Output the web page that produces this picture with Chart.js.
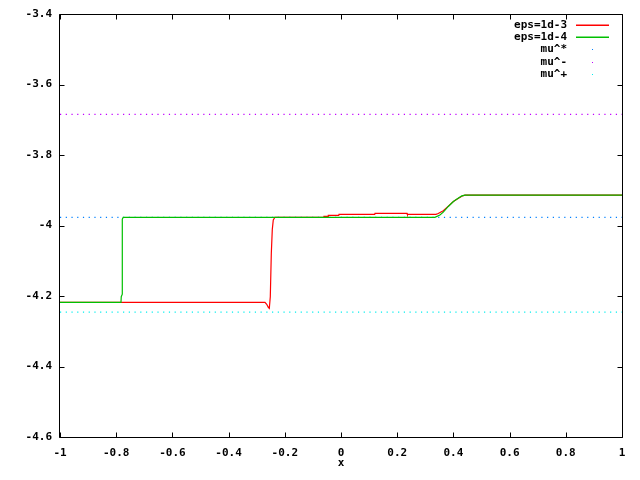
<!DOCTYPE html>
<html>
<head>
<meta charset="utf-8">
<script src="https://cdn.jsdelivr.net/npm/chart.js@4"></script>
<style>
  html, body { margin: 0; padding: 0; background: #fff; }
  #wrap { width: 640px; height: 480px; }
</style>
</head>
<body>
<div id="wrap"><canvas id="chart" width="640" height="480"></canvas></div>
<script>
const ctx = document.getElementById('chart');

// eps=1d-3 (red)
const redX = [-1, -0.2705, -0.2644, -0.2587, -0.2551, -0.2516, -0.248, -0.2445, -0.241, -0.2349,
    -0.062, -0.0605, -0.046, -0.0452, -0.008, -0.0071, 0.12, 0.121, 0.235, 0.236,
    0.338, 0.346, 0.364, 0.382, 0.4, 0.418, 0.43, 0.441, 1];
const redY = [-4.2179, -4.2179, -4.2236, -4.232, -4.235, -4.202, -4.079, -4.011, -3.9844, -3.9767,
    -3.9767, -3.9739, -3.9739, -3.9711, -3.9711, -3.9682, -3.9682, -3.9654, -3.9654, -3.9682,
    -3.9682, -3.966, -3.958, -3.945, -3.932, -3.923, -3.917, -3.914, -3.914];

// eps=1d-4 (green)
const greenX = [-1, -0.783, -0.782, -0.7783, -0.7783, -0.775, 0.334, 0.352, 0.364, 0.382, 0.4, 0.418, 0.43, 0.441, 1];
const greenY = [-4.2179, -4.2179, -4.202, -4.195, -3.982, -3.9767, -3.9767, -3.970, -3.962, -3.946, -3.932, -3.922, -3.916, -3.914, -3.914];

// horizontal levels
const muStar = -3.9767;
const muMinus = -3.6846;
const muPlus = -4.246;

const xTicks = [-1, -0.8, -0.6, -0.4, -0.2, 0, 0.2, 0.4, 0.6, 0.8, 1];
const yTicks = [-4.6, -4.4, -4.2, -4, -3.8, -3.6, -3.4];

const keyLabels = ['eps=1d-3', 'eps=1d-4', 'mu^*', 'mu^-', 'mu^+'];
const keyColors = ['#ff0000', '#00c000', '#0080ff', '#c000ff', '#00eeee'];

const FONT = { family: '"DejaVu Sans Mono", monospace', size: 11, weight: 'bold' };
const DOTS = [1.2, 4.53];

function pts(xs, ys) {
    return xs.map((x, i) => ({ x: x, y: ys[i] }));
}
function level(v) {
    return [{ x: -1, y: v }, { x: 1, y: v }];
}

const data = {
    datasets: [
        { label: keyLabels[0], data: pts(redX, redY), borderColor: keyColors[0], borderWidth: 1.2, order: 1 },
        { label: keyLabels[1], data: pts(greenX, greenY), borderColor: keyColors[1], borderWidth: 1.2, order: 0 },
        { label: keyLabels[2], data: level(muStar), borderColor: keyColors[2], borderWidth: 1.2, borderDash: DOTS, order: 2 },
        { label: keyLabels[3], data: level(muMinus), borderColor: keyColors[3], borderWidth: 1.2, borderDash: DOTS, order: 2 },
        { label: keyLabels[4], data: level(muPlus), borderColor: keyColors[4], borderWidth: 1.2, borderDash: DOTS, order: 2 }
    ]
};

// gnuplot-like frame, inward ticks on all sides, key in top right
const framePlugin = {
    id: 'frame',
    afterDraw(chart) {
        const c = chart.ctx;
        const a = chart.chartArea;
        const L = Math.round(a.left) - 0.5, R = Math.round(a.right) + 0.5;
        const T = Math.round(a.top) + 0.5, B = Math.round(a.bottom) + 0.5;
        c.save();
        c.setLineDash([]);
        c.strokeStyle = '#000';
        c.lineWidth = 1;
        c.beginPath();
        c.rect(L, T, R - L, B - T);
        chart.scales.x.ticks.forEach(t => {
            const px = Math.round(chart.scales.x.getPixelForValue(t.value)) + 0.5;
            c.moveTo(px, B); c.lineTo(px, B - 5);
            c.moveTo(px, T); c.lineTo(px, T + 5);
        });
        chart.scales.y.ticks.forEach(t => {
            const py = Math.round(chart.scales.y.getPixelForValue(t.value)) + 0.5;
            c.moveTo(L, py); c.lineTo(L + 5, py);
            c.moveTo(R, py); c.lineTo(R - 5, py);
        });
        c.stroke();

        // key
        c.font = 'bold 11px "DejaVu Sans Mono", monospace';
        c.textAlign = 'right';
        c.textBaseline = 'middle';
        keyLabels.forEach((lab, i) => {
            const y = Math.round(25 + i * 12.2);
            c.fillStyle = '#000';
            c.fillText(lab, 567, y + 0.5);
            if (i < 2) {
                c.strokeStyle = keyColors[i];
                c.lineWidth = 1.4;
                c.beginPath();
                c.moveTo(576, y + 0.3);
                c.lineTo(609, y + 0.3);
                c.stroke();
            } else {
                c.fillStyle = keyColors[i];
                c.fillRect(592, y, 1, 1);
            }
        });
        c.restore();
    }
};

new Chart(ctx, {
    type: 'scatter',
    data: data,
    options: {
        responsive: false,
        animation: false,
        showLine: true,
        elements: { point: { radius: 0 }, line: { tension: 0 } },
        layout: { padding: { top: 14, right: 18, left: 0, bottom: 0 } },
        plugins: { legend: { display: false }, tooltip: { enabled: false } },
        scales: {
            x: {
                type: 'linear',
                min: -1, max: 1,
                afterBuildTicks: s => { s.ticks = xTicks.map(v => ({ value: v })); },
                afterFit: s => { s.height = 43; },
                grid: { display: false },
                border: { display: false },
                ticks: { color: '#000', font: FONT, padding: 2, maxRotation: 0, callback: v => String(v) },
                title: { display: true, text: 'x', color: '#000', font: FONT, padding: { top: 0, bottom: 10 } }
            },
            y: {
                type: 'linear',
                min: -4.6, max: -3.4,
                afterBuildTicks: s => { s.ticks = yTicks.map(v => ({ value: v })); },
                afterFit: s => { s.width = 60; },
                grid: { display: false },
                border: { display: false },
                ticks: { color: '#000', font: FONT, padding: 0, callback: v => String(v) }
            }
        }
    },
    plugins: [framePlugin]
});
</script>
</body>
</html>
